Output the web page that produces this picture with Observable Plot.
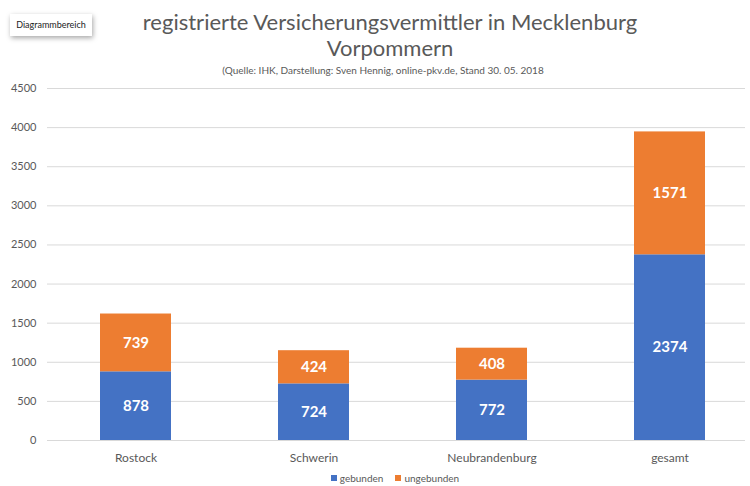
<!DOCTYPE html>
<html><head><meta charset="utf-8">
<script src="https://cdn.jsdelivr.net/npm/d3@7"></script>
<script src="https://cdn.jsdelivr.net/npm/@observablehq/plot@0.6"></script>
<style>
body{margin:0;background:#fff;font-family:Lato,"Open Sans",sans-serif;width:750px;height:486px;overflow:hidden;position:relative}
.title{position:absolute;left:15px;width:750px;text-align:center;color:#595959;font-size:22px;line-height:24px;font-weight:400}
#t1{top:10px}
#t2{top:36px}
#sub{position:absolute;left:8px;top:64px;width:750px;text-align:center;color:#595959;font-size:10px}
#tip{position:absolute;left:10px;top:14px;width:82px;height:22px;background:#fff;box-shadow:1px 2px 5px rgba(0,0,0,0.35);font-size:9px;line-height:22px;text-align:center;color:#222}
#chart{position:absolute;left:0;top:80px}
#legend{position:absolute;left:0;top:472px;width:790px;text-align:center;font-size:10px;color:#595959}
#legend span{margin:0 6px}
#legend i{display:inline-block;width:6px;height:6px;margin-right:3px;vertical-align:1px}
</style></head>
<body>
<div class="title" id="t1">registrierte Versicherungsvermittler in Mecklenburg</div>
<div class="title" id="t2">Vorpommern</div>
<div id="sub">(Quelle: IHK, Darstellung: Sven Hennig, online-pkv.de, Stand 30. 05. 2018</div>
<div id="tip">Diagrammbereich</div>
<div id="chart"></div>
<div id="legend"></div>
<script>
const categories = ["Rostock", "Schwerin", "Neubrandenburg", "gesamt"];
const series = ["gebunden", "ungebunden"];
const gebunden = [878, 724, 772, 2374];
const ungebunden = [739, 424, 408, 1571];
const yTicks = [0, 500, 1000, 1500, 2000, 2500, 3000, 3500, 4000, 4500];
const colors = ["#4472C4", "#ED7D31"];

const rows = [];
categories.forEach((c, i) => {
  const g = gebunden[i], u = ungebunden[i];
  rows.push({cat: c, series: series[0], value: g, y1: 0, y2: g});
  rows.push({cat: c, series: series[1], value: u, y1: g, y2: g + u});
});
rows.forEach(r => r.ym = (r.y1 + r.y2) / 2);

const chart = Plot.plot({
  width: 750,
  height: 390,
  marginTop: 8,
  marginBottom: 30,
  marginLeft: 47,
  marginRight: 5,
  style: {fontFamily: "Lato, 'Open Sans', sans-serif", color: "#595959", background: "transparent"},
  x: {domain: categories, range: [47, 759], paddingInner: 0.6, paddingOuter: 0.3, align: 0.5, label: null},
  y: {domain: [0, 4500], label: null},
  color: {domain: series, range: colors},
  marks: [
    Plot.ruleY(yTicks, {stroke: "#d9d9d9", strokeWidth: 1}),
    Plot.barY(rows, {x: "cat", y1: "y1", y2: "y2", fill: "series"}),
    Plot.text(rows, {x: "cat", y: "ym", text: d => String(d.value), fill: "white", fontWeight: "bold", fontSize: 15}),
    Plot.axisY({ticks: yTicks, tickSize: 0, tickPadding: 11, fontSize: 11, tickFormat: d => String(d), label: null}),
    Plot.axisX({tickSize: 0, tickPadding: 13, fontSize: 12, label: null})
  ]
});
document.getElementById("chart").appendChild(chart);

document.getElementById("legend").innerHTML = series.map((s, i) =>
  `<span><i style="background:${colors[i]}"></i>${s}</span>`).join("");
</script>
</body></html>
